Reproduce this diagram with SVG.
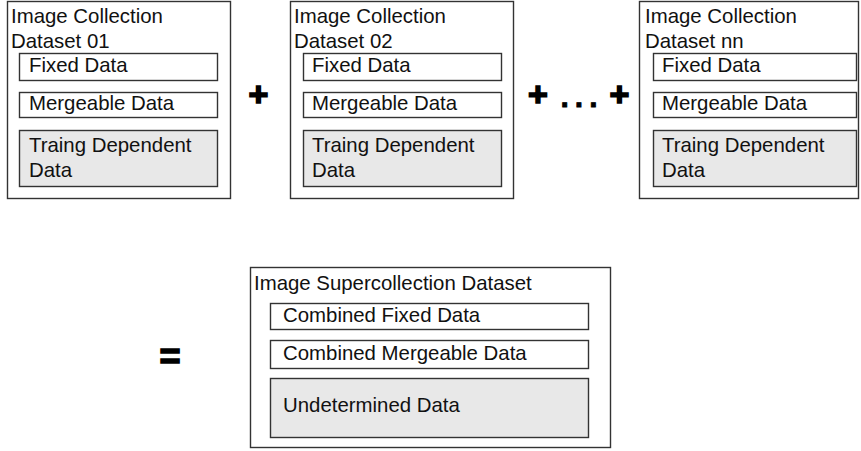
<svg xmlns="http://www.w3.org/2000/svg" width="861" height="451" viewBox="0 0 861 451">
<style>
.outer{fill:#fff;stroke:#333;stroke-width:1.4}
.inner{fill:#fff;stroke:#333;stroke-width:1.4}
.gray{fill:#e8e8e8;stroke:#333;stroke-width:1.4}
text{font-family:"Liberation Sans",Arial,sans-serif;font-size:20.4px;fill:#111}
text.op{font-weight:bold;fill:#000;stroke:#000;stroke-width:1.6px;text-anchor:middle;font-size:34px}
text.dots{font-size:30px;letter-spacing:6px;stroke-width:0.8px}
text.eq{font-size:36px}
</style>
<rect width="861" height="451" fill="#fff"/>
<g id="ds01">
<rect class="outer" x="7.5" y="1.5" width="223" height="197"/>
<text x="11" y="23">Image Collection</text>
<text x="11" y="48">Dataset 01</text>
<rect class="inner" x="19.5" y="53.5" width="198" height="27"/>
<text x="29" y="72">Fixed Data</text>
<rect class="inner" x="19.5" y="92.5" width="198" height="25"/>
<text x="29" y="110">Mergeable Data</text>
<rect class="gray" x="19.5" y="130.5" width="198" height="56"/>
<text x="29" y="152">Traing Dependent</text>
<text x="29" y="177">Data</text>
</g>
<g id="ds02">
<rect class="outer" x="290.5" y="1.5" width="223" height="197"/>
<text x="294" y="23">Image Collection</text>
<text x="294" y="48">Dataset 02</text>
<rect class="inner" x="303.5" y="53.5" width="198" height="27"/>
<text x="312" y="72">Fixed Data</text>
<rect class="inner" x="303.5" y="92.5" width="198" height="25"/>
<text x="312" y="110">Mergeable Data</text>
<rect class="gray" x="303.5" y="130.5" width="198" height="56"/>
<text x="312" y="152">Traing Dependent</text>
<text x="312" y="177">Data</text>
</g>
<g id="dsnn">
<rect class="outer" x="639.5" y="1.5" width="219" height="197"/>
<text x="645" y="23">Image Collection</text>
<text x="645" y="48">Dataset nn</text>
<rect class="inner" x="653.5" y="53.5" width="203" height="27"/>
<text x="662" y="72">Fixed Data</text>
<rect class="inner" x="653.5" y="92.5" width="203" height="25"/>
<text x="662" y="110">Mergeable Data</text>
<rect class="gray" x="653.5" y="130.5" width="203" height="56"/>
<text x="662" y="152">Traing Dependent</text>
<text x="662" y="177">Data</text>
</g>
<g id="super">
<rect class="outer" x="250.5" y="267.5" width="360" height="180"/>
<text x="254" y="290">Image Supercollection Dataset</text>
<rect class="inner" x="270.5" y="303.5" width="318" height="26"/>
<text x="283" y="322">Combined Fixed Data</text>
<rect class="inner" x="270.5" y="340.5" width="318" height="28"/>
<text x="283" y="360">Combined Mergeable Data</text>
<rect class="gray" x="270.5" y="378.5" width="318" height="59"/>
<text x="283" y="412">Undetermined Data</text>
</g>
<g id="operators">
<text class="op" x="258.5" y="106">+</text>
<text class="op" x="538" y="106">+</text>
<text class="op dots" x="582" y="107">...</text>
<text class="op" x="619.5" y="106">+</text>
<text class="op eq" x="170" y="369">=</text>
</g>
</svg>
